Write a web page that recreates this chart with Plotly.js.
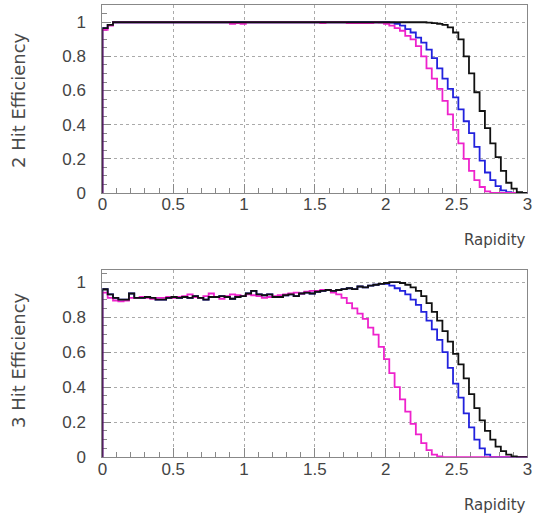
<!DOCTYPE html>
<html>
<head>
<meta charset="utf-8">
<script src="https://cdn.plot.ly/plotly-3.0.1.min.js"></script>
<style>html,body{margin:0;padding:0;background:#fff;}#chart{width:536px;height:516px;}</style>
</head>
<body>
<div id="chart"></div>
<script>
// Histogram binning (rapidity 0..3, 80 bins)
const rapidityMin = 0;
const rapidityMax = 3;
const nBins = 80;

// Tick labels
const xTickVals = [0, 0.5, 1, 1.5, 2, 2.5, 3];
const xTickText = ["0", "0.5", "1", "1.5", "2", "2.5", "3"];
const yTickVals = [0, 0.2, 0.4, 0.6, 0.8, 1];
const yTickText = ["0", "0.2", "0.4", "0.6", "0.8", "1"];

// 2 Hit Efficiency
const eff2Black = [
  0.965, 0.985, 1, 1, 1, 1, 1, 1, 1, 1,
  1, 1, 1, 1, 1, 1, 1, 1, 1, 1,
  1, 1, 1, 1, 1, 1, 1, 1, 1, 1,
  1, 1, 1, 1, 1, 1, 1, 1, 1, 1,
  1, 1, 1, 1, 1, 1, 1, 1, 1, 1,
  1, 1, 1, 1, 1, 1, 1, 1, 1, 1,
  1, 0.998, 0.995, 0.99, 0.985, 0.97, 0.94, 0.9, 0.8, 0.7,
  0.59, 0.48, 0.38, 0.29, 0.21, 0.13, 0.06, 0.025, 0.005, 0
];
const eff2Blue = [
  0.965, 0.985, 1, 1, 1, 1, 1, 1, 1, 1,
  1, 1, 1, 1, 1, 1, 1, 1, 1, 1,
  1, 1, 1, 1, 1, 1, 1, 1, 1, 1,
  1, 1, 1, 1, 1, 1, 1, 1, 1, 1,
  1, 1, 1, 1, 1, 1, 1, 1, 1, 1,
  1, 1, 1, 1, 0.998, 0.99, 0.98, 0.96, 0.94, 0.91,
  0.88, 0.84, 0.79, 0.73, 0.67, 0.61, 0.56, 0.49, 0.42, 0.35,
  0.27, 0.19, 0.12, 0.075, 0.04, 0.015, 0.005, 0, 0, 0
];
const eff2Magenta = [
  0.955, 0.98, 1, 1, 1, 1, 1, 1, 1, 1,
  1, 1, 1, 1, 1, 1, 1, 1, 1, 1,
  1, 1, 1, 1, 0.99, 0.995, 0.99, 1, 1, 1,
  1, 1, 1, 1, 1, 1, 1, 1, 1, 1,
  1, 0.995, 1, 1, 1, 1, 0.995, 0.995, 0.995, 0.995,
  0.995, 1, 0.998, 0.99, 0.98, 0.965, 0.95, 0.92, 0.9, 0.86,
  0.8, 0.73, 0.67, 0.61, 0.54, 0.46, 0.37, 0.29, 0.2, 0.13,
  0.075, 0.035, 0.01, 0, 0, 0, 0, 0, 0, 0
];

// 3 Hit Efficiency
const eff3Black = [
  0.96, 0.93, 0.91, 0.9, 0.9, 0.935, 0.91, 0.91, 0.915, 0.91,
  0.9, 0.9, 0.91, 0.915, 0.91, 0.915, 0.91, 0.92, 0.91, 0.9,
  0.915, 0.915, 0.92, 0.915, 0.905, 0.915, 0.92, 0.935, 0.95, 0.93,
  0.925, 0.93, 0.915, 0.915, 0.925, 0.93, 0.92, 0.935, 0.94, 0.935,
  0.945, 0.95, 0.955, 0.95, 0.955, 0.96, 0.965, 0.96, 0.975, 0.97,
  0.98, 0.985, 0.99, 0.995, 1, 1, 0.995, 0.985, 0.97, 0.95,
  0.92, 0.88, 0.83, 0.78, 0.72, 0.66, 0.59, 0.53, 0.45, 0.36,
  0.28, 0.21, 0.15, 0.1, 0.06, 0.035, 0.015, 0.005, 0, 0
];
const eff3Blue = [
  0.96, 0.93, 0.91, 0.9, 0.9, 0.935, 0.91, 0.91, 0.915, 0.91,
  0.9, 0.9, 0.91, 0.915, 0.91, 0.915, 0.91, 0.92, 0.91, 0.9,
  0.915, 0.915, 0.92, 0.915, 0.905, 0.915, 0.92, 0.935, 0.95, 0.93,
  0.925, 0.93, 0.915, 0.915, 0.925, 0.93, 0.92, 0.935, 0.94, 0.935,
  0.945, 0.95, 0.955, 0.95, 0.955, 0.96, 0.965, 0.96, 0.975, 0.97,
  0.98, 0.985, 0.99, 0.99, 0.98, 0.965, 0.95, 0.93, 0.9, 0.87,
  0.83, 0.78, 0.73, 0.67, 0.6, 0.51, 0.42, 0.34, 0.25, 0.17,
  0.1, 0.05, 0.015, 0, 0, 0, 0, 0, 0, 0
];
const eff3Magenta = [
  0.94, 0.91, 0.895, 0.89, 0.895, 0.91, 0.91, 0.915, 0.91, 0.905,
  0.91, 0.91, 0.915, 0.91, 0.915, 0.92, 0.93, 0.915, 0.91, 0.92,
  0.935, 0.915, 0.905, 0.92, 0.93, 0.925, 0.92, 0.93, 0.925, 0.92,
  0.91, 0.915, 0.92, 0.925, 0.93, 0.935, 0.94, 0.935, 0.945, 0.95,
  0.95, 0.955, 0.955, 0.94, 0.93, 0.91, 0.88, 0.85, 0.82, 0.79,
  0.74, 0.7, 0.63, 0.56, 0.48, 0.4, 0.33, 0.26, 0.19, 0.13,
  0.08, 0.04, 0.015, 0.005, 0, 0, 0, 0, 0, 0,
  0, 0, 0, 0, 0, 0, 0, 0, 0, 0
];

const colBlack = "#111111";
const colBlue = "#2222dd";
const colMagenta = "#ee22cc";

function stepTrace(values, color, xa, ya) {
  const w = (rapidityMax - rapidityMin) / values.length;
  const xs = [rapidityMin], ys = [0];
  values.forEach((v, i) => { xs.push(rapidityMin + i * w); ys.push(v); });
  xs.push(rapidityMax); ys.push(values[values.length - 1]);
  return {
    type: "scatter", mode: "lines", x: xs, y: ys,
    line: {shape: "hv", color: color, width: 1.8},
    xaxis: xa, yaxis: ya, hoverinfo: "skip", showlegend: false
  };
}

const data = [
  stepTrace(eff2Blue, colBlue, "x", "y"),
  stepTrace(eff2Magenta, colMagenta, "x", "y"),
  stepTrace(eff2Black, colBlack, "x", "y"),
  stepTrace(eff3Blue, colBlue, "x2", "y2"),
  stepTrace(eff3Magenta, colMagenta, "x2", "y2"),
  stepTrace(eff3Black, colBlack, "x2", "y2")
];

const tickFont = {family: "Liberation Sans, Arial, sans-serif", size: 17, color: "#444"};
const titleFont = {family: "DejaVu Sans, sans-serif", size: 18, color: "#4a4a4a"};
const rapFont = {family: "DejaVu Sans, sans-serif", size: 15, color: "#444"};

function xAxis(anchor) {
  return {
    domain: [0.191, 0.984], range: [0, 3], anchor: anchor,
    tickmode: "array", tickvals: xTickVals, ticktext: xTickText,
    ticks: "inside", ticklen: 9, tickcolor: "#888", tickwidth: 1,
    minor: {dtick: 0.1, ticks: "inside", ticklen: 5, tickcolor: "#888", showgrid: false},
    showline: true, linecolor: "#888", linewidth: 1, mirror: true,
    showgrid: true, gridcolor: "#aaa", griddash: "dot", gridwidth: 1,
    zeroline: false, tickfont: tickFont, ticklabelstandoff: -4, fixedrange: true,
    layer: "below traces"
  };
}
function yAxis(anchor, domain, top) {
  return {
    domain: domain, range: [0, top], anchor: anchor,
    tickmode: "array", tickvals: yTickVals, ticktext: yTickText,
    ticks: "inside", ticklen: 9, tickcolor: "#888", tickwidth: 1,
    minor: {dtick: 0.05, ticks: "inside", ticklen: 5, tickcolor: "#888", showgrid: false},
    showline: true, linecolor: "#888", linewidth: 1, mirror: true,
    showgrid: true, gridcolor: "#aaa", griddash: "dot", gridwidth: 1,
    zeroline: false, tickfont: tickFont, ticklabelstandoff: 12, fixedrange: true,
    layer: "below traces"
  };
}

const layout = {
  width: 536, height: 516,
  margin: {l: 0, r: 0, t: 0, b: 0},
  paper_bgcolor: "#fff", plot_bgcolor: "#fff",
  showlegend: false,
  xaxis: xAxis("y"),
  yaxis: yAxis("x", [0.626, 0.990], 1.1),
  xaxis2: xAxis("y2"),
  yaxis2: yAxis("x2", [0.114, 0.477], 1.07),
  annotations: [
    {text: "2 Hit Efficiency", xref: "paper", yref: "paper", x: 18/536, y: 1 - 100/516,
     textangle: -90, showarrow: false, font: titleFont, xanchor: "center", yanchor: "middle"},
    {text: "3 Hit Efficiency", xref: "paper", yref: "paper", x: 18/536, y: 1 - 360/516,
     textangle: -90, showarrow: false, font: titleFont, xanchor: "center", yanchor: "middle"},
    {text: "Rapidity", xref: "paper", yref: "paper", x: 528/536, y: 1 - 240/516,
     showarrow: false, font: rapFont, xanchor: "right", yanchor: "middle"},
    {text: "Rapidity", xref: "paper", yref: "paper", x: 528/536, y: 1 - 505/516,
     showarrow: false, font: rapFont, xanchor: "right", yanchor: "middle"}
  ]
};

Plotly.newPlot("chart", data, layout, {staticPlot: true, displayModeBar: false});
</script>
</body>
</html>
